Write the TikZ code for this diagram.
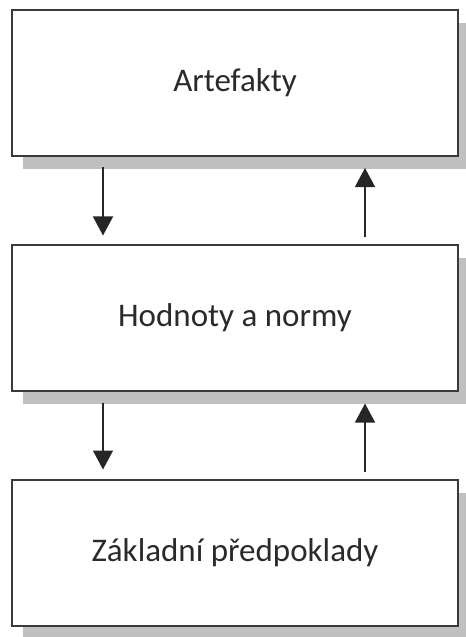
\documentclass[tikz,border=0pt]{standalone}
\usepackage{fontspec}
\setmainfont{Carlito}
\usetikzlibrary{arrows.meta,shadows}
\definecolor{edgec}{HTML}{3A3A3A}
\definecolor{shadowc}{HTML}{C0C0C0}
\definecolor{textc}{HTML}{2A2A2A}
\begin{document}
\begin{tikzpicture}[x=1bp,y=-1bp,
  layerbox/.style={draw=edgec, line width=2bp, fill=white,
    minimum width=446bp, minimum height=146bp, inner sep=0pt,
    text=textc, font=\fontsize{33bp}{39bp}\selectfont,
    general shadow={fill=shadowc, shadow xshift=11bp, shadow yshift=-13bp}},
  arr/.style={line width=1.4bp, draw=black!85,
    -{Triangle[width=20bp,length=19bp]}}]
\useasboundingbox (0,0) rectangle (466,637);
\node[layerbox] (a) at (235,83) {Artefakty};
\node[layerbox] (b) at (235,317.5) {Hodnoty a normy};
\node[layerbox] (c) at (235,552.5) {Základní předpoklady};
\draw[arr] ([xshift=92bp,yshift=-10bp]a.south west) -- ([xshift=92bp,yshift=8bp]b.north west);
\draw[arr] ([xshift=354bp,yshift=7bp]b.north west) -- ([xshift=354bp,yshift=-11bp]a.south west);
\draw[arr] ([xshift=92bp,yshift=-11bp]b.south west) -- ([xshift=92bp,yshift=9bp]c.north west);
\draw[arr] ([xshift=354bp,yshift=7bp]c.north west) -- ([xshift=354bp,yshift=-12bp]b.south west);
\end{tikzpicture}
\end{document}
